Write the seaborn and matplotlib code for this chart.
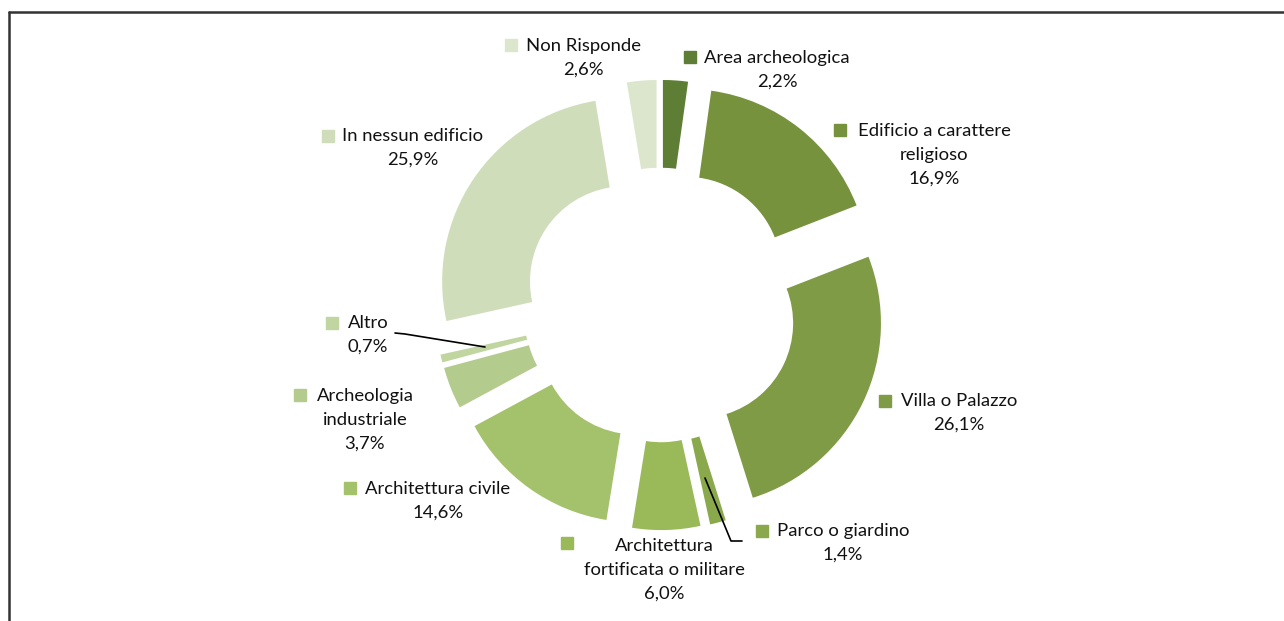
import numpy as np
import matplotlib.pyplot as plt
import seaborn as sns
from matplotlib.lines import Line2D

categorie = ['Area archeologica', 'Edificio a carattere\nreligioso', 'Villa o Palazzo',
             'Parco o giardino', 'Architettura\nfortificata o militare', 'Architettura civile',
             'Archeologia\nindustriale', 'Altro', 'In nessun edificio', 'Non Risponde']
valori = [2.2, 16.9, 26.1, 1.4, 6.0, 14.6, 3.7, 0.7, 25.9, 2.6]
colori = ['#5e7d35', '#76923d', '#7f9b45', '#8aa94c', '#9aba5a',
          '#a4c16b', '#b4cb8e', '#c1d5a0', '#d0ddbb', '#dce6cd']

# posizioni delle etichette in pixel (centro testo, quadratino)
pos_testo = [(777, 70), (934, 155), (959, 413), (843, 543), (664, 570),
             (438, 501), (365, 420), (368, 335), (413, 148), (583, 58)]
pos_quadro = [(690, 57), (840, 130), (885, 401), (762, 531), (567, 543),
              (350, 488), (300, 395), (332, 323), (328, 136), (511, 45)]

W, H = 1284, 621
CX, CY, SCALA = 660, 305, 183


def px(x, y):
    return (x - CX) / SCALA, (CY - y) / SCALA


sns.set_style('white')
plt.rcParams['font.family'] = ['Lato', 'DejaVu Sans']

fig = plt.figure(figsize=(W / 100, H / 100), dpi=100)
ax = fig.add_axes([0, 0, 1, 1])
ax.pie(valori, colors=colori, startangle=90, counterclock=False, radius=1.0,
       explode=[0.23] * len(valori), wedgeprops=dict(width=0.48, linewidth=0))
ax.set_xlim(-CX / SCALA, (W - CX) / SCALA)
ax.set_ylim(-(H - CY) / SCALA, CY / SCALA)
ax.set_aspect('auto')
ax.axis('off')

for cat, v, c, pt, pq in zip(categorie, valori, colori, pos_testo, pos_quadro):
    testo = cat + '\n' + f'{v:.1f}'.replace('.', ',') + '%'
    x, y = px(*pt)
    ax.text(x, y, testo, ha='center', va='center', fontsize=13.3,
            color='#111111', linespacing=1.58)
    qx, qy = px(*pq)
    ax.plot([qx], [qy], marker='s', markersize=8, color=c, linestyle='none')

# linee guida
for punti in [[(395, 333), (405, 334), (485, 347)],
              [(705, 478), (731, 541), (742, 541)]]:
    xs, ys = zip(*[px(*p) for p in punti])
    ax.plot(xs, ys, color='black', linewidth=1.2)

# cornice
fig.add_artist(Line2D([9 / W, 1], [1 - 12 / H, 1 - 12 / H], color='#333333', linewidth=1.8))
fig.add_artist(Line2D([9 / W, 9 / W], [0, 1 - 12 / H], color='#333333', linewidth=1.8))

fig.savefig('out.png', dpi=100)
